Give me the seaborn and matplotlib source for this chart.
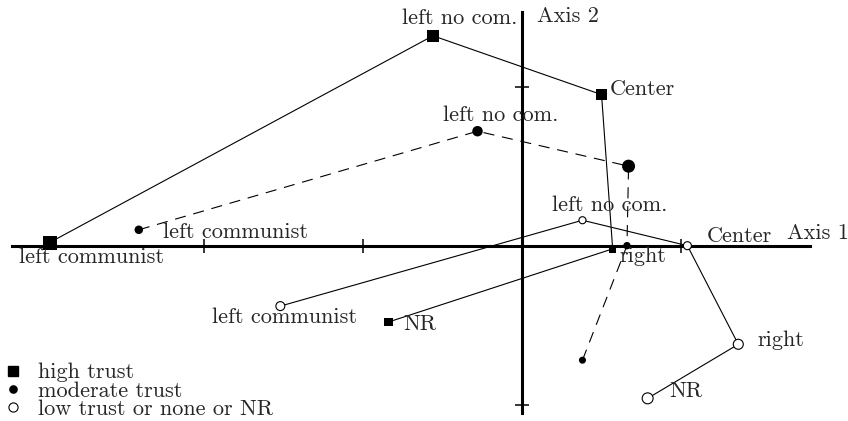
import numpy as np
import pandas as pd
import matplotlib
matplotlib.use("Agg")
import matplotlib.pyplot as plt
from matplotlib.lines import Line2D
import seaborn as sns

# correspondence analysis: political orientation x trust level
categories = ["left communist", "left no com.", "Center", "right", "NR"]

high_ax1 = [-2.97, -0.56, 0.50, 0.57, -0.84]
high_ax2 = [0.02, 1.32, 0.95, -0.02, -0.48]
high_mass = [19.6, 15.0, 11.5, 5.8, 8.0]

mod_ax1 = [-2.41, -0.28, 0.67, 0.66, 0.38]
mod_ax2 = [0.10, 0.72, 0.50, 0.00, -0.72]
mod_mass = [7.3, 11.0, 17.0, 5.5, 5.0]

low_ax1 = [-1.52, 0.38, 1.04, 1.36, 0.79]
low_ax2 = [-0.38, 0.16, 0.00, -0.62, -0.96]
low_mass = [8.0, 5.0, 6.4, 10.0, 12.0]

sns.set_style("white")
plt.rcParams['font.family'] = ['cmr10', 'DejaVu Serif']
plt.rcParams['axes.formatter.use_mathtext'] = True
FS = 16

fig = plt.figure(figsize=(8.48, 4.21), dpi=100)
ax = fig.add_axes([0, 0, 1, 1])

groups = [
    (high_ax1, high_ax2, high_mass, 's', 'black', 'black', '-'),
    (mod_ax1, mod_ax2, mod_mass, 'o', 'black', 'black', (0, (10, 7))),
    (low_ax1, low_ax2, low_mass, 'o', 'white', 'black', '-'),
]
for x, y, m, mk, fc, ec, ls in groups:
    sns.lineplot(x=x, y=y, sort=False, estimator=None, color='black',
                 lw=0.8, linestyle=ls, ax=ax, zorder=3)
    s = np.array(m) * 10 * 0.72 ** 2
    sns.scatterplot(x=x, y=y, s=s, marker=mk, color=fc, edgecolor=ec,
                    linewidth=0 if fc == 'black' else 0.8, ax=ax, zorder=5,
                    legend=False)

# labels: (group, category index, dx px, dy px, ha)
labels = [
    (high_ax1, high_ax2, 0, 42, -15, 'center'),
    (high_ax1, high_ax2, 1, 27, 18, 'center'),
    (high_ax1, high_ax2, 2, 8, 5, 'left'),
    (high_ax1, high_ax2, 3, 7, -7, 'left'),
    (high_ax1, high_ax2, 4, 15, -2, 'left'),
    (mod_ax1, mod_ax2, 0, 24, -2, 'left'),
    (mod_ax1, mod_ax2, 1, 23, 16, 'center'),
    (low_ax1, low_ax2, 0, 4, -11, 'center'),
    (low_ax1, low_ax2, 1, 27, 15, 'center'),
    (low_ax1, low_ax2, 2, 19, 9, 'left'),
    (low_ax1, low_ax2, 3, 19, 4, 'left'),
    (low_ax1, low_ax2, 4, 22, 7, 'left'),
]
for x, y, i, dx, dy, ha in labels:
    ax.annotate(categories[i], (x[i], y[i]), xytext=(dx, dy),
                textcoords='offset pixels', ha=ha, va='center', fontsize=FS,
                zorder=6)

ax.set_xlim(-3.283, 2.050)
ax.set_ylim(-1.1025, 1.545)

# axes through the origin
for side in ['top', 'right']:
    ax.spines[side].set_visible(False)
ax.spines['bottom'].set_position(('data', 0))
ax.spines['left'].set_position(('data', 0))
ax.spines['bottom'].set_bounds(-3.21, 1.81)
ax.spines['left'].set_bounds(-1.052, 1.47)
for side in ['bottom', 'left']:
    ax.spines[side].set_linewidth(2.2)
    ax.spines[side].set_color('black')
ax.set_xticks([-2, -1, 1])
ax.set_yticks([-1, 1])
ax.tick_params(direction='inout', length=9.5, width=1.1, color='black',
               labelbottom=False, labelleft=False, bottom=True, left=True)
ax.set_xlabel('')
ax.set_ylabel('')

ax.text(0.094, 1.445, 'Axis 2', fontsize=FS, va='center', ha='left')
ax.text(1.667, 0.08, 'Axis 1', fontsize=FS, va='center', ha='left')

handles = [
    Line2D([], [], marker='s', color='black', ls='none', markersize=7.2),
    Line2D([], [], marker='o', color='black', ls='none', markersize=5.2),
    Line2D([], [], marker='o', mfc='white', mec='black', mew=0.8, ls='none',
           markersize=6.6),
]
ax.legend(handles, ['high trust', 'moderate trust', 'low trust or none or NR'],
          loc='lower left', bbox_to_anchor=(0.0, 0.0), frameon=False,
          fontsize=FS, borderaxespad=0, borderpad=0.1, handlelength=1.0,
          handletextpad=0.6, labelspacing=-0.06)

fig.savefig('out.png', dpi=100)
